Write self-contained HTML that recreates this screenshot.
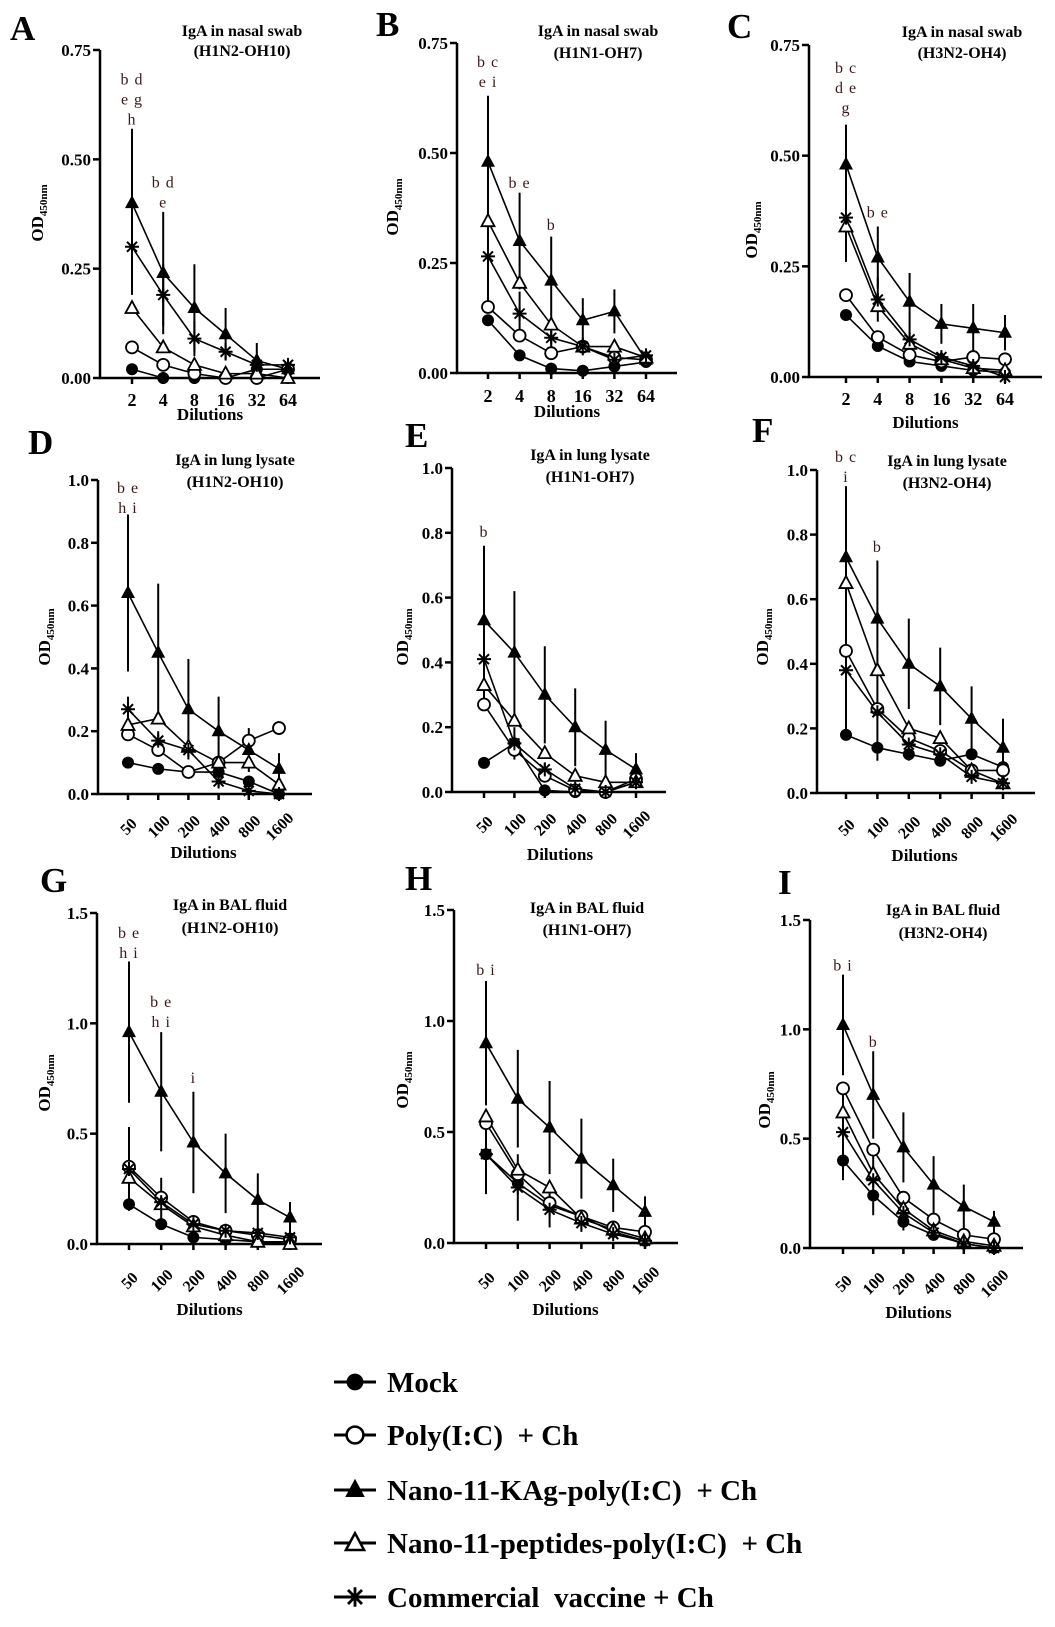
<!DOCTYPE html>
<html><head><meta charset="utf-8"><style>
html,body{margin:0;padding:0;background:#fff}
svg,svg text{font-family:"Liberation Serif","Times New Roman",serif}
</style></head><body>
<svg id="fig" width="1055" height="1622" viewBox="0 0 1055 1622" xmlns="http://www.w3.org/2000/svg" font-family="Liberation Serif, serif"></svg>
<script>
const nasalDilutions = ['2','4','8','16','32','64'];
const lungDilutions = ['50','100','200','400','800','1600'];
const nasalTicks = [0,0.25,0.5,0.75];
const lungTicks = [0,0.2,0.4,0.6,0.8,1.0];
const balTicks = [0,0.5,1.0,1.5];
const seriesNames = ['Mock','Poly(I:C)\u00a0 + Ch','Nano-11-KAg-poly(I:C)\u00a0 + Ch','Nano-11-peptides-poly(I:C)\u00a0 + Ch','Commercial\u00a0 vaccine + Ch'];

const aMock=[0.02,0,0,0,0.02,0.02], aPoly=[0.07,0.03,0.01,0,0,0.02], aKag=[0.40,0.24,0.16,0.10,0.04,0.02], aPep=[0.16,0.07,0.03,0.01,0.01,0], aCom=[0.30,0.19,0.09,0.06,0.03,0.03];
const aKagErr=[0.17,0.14,0.10,0.06,0.04,0.01], aComErr=[0.11,0.07,0.04,0.02,0.01,0.01];
const bMock=[0.12,0.04,0.01,0.005,0.015,0.025], bPoly=[0.15,0.085,0.045,0.06,0.035,0.03], bKag=[0.48,0.30,0.21,0.12,0.14,0.03], bPep=[0.345,0.205,0.11,0.06,0.06,0.035], bCom=[0.265,0.135,0.08,0.06,0.03,0.04];
const bKagErr=[0.15,0.11,0.10,0.05,0.05,0.01], bComErr=[0.10,0.05,0.03,0.02,0.01,0.01];
const cMock=[0.14,0.07,0.035,0.025,0.015,0.01], cPoly=[0.185,0.09,0.05,0.035,0.045,0.04], cKag=[0.48,0.27,0.17,0.12,0.11,0.10], cPep=[0.34,0.16,0.075,0.04,0.02,0.015], cCom=[0.36,0.175,0.085,0.045,0.025,0];
const cKagErr=[0.09,0.07,0.065,0.045,0.055,0.04], cComErr=[0.10,0.05,0.02,0.01,0.01,0.01];
const dMock=[0.10,0.08,0.07,0.07,0.04,0], dPoly=[0.19,0.14,0.07,0.10,0.17,0.21], dKag=[0.64,0.45,0.27,0.20,0.14,0.08], dPep=[0.22,0.24,0.15,0.10,0.10,0.03], dCom=[0.27,0.17,0.14,0.04,0.01,0];
const dKagErr=[0.25,0.22,0.16,0.11,0.07,0.05], dComErr=[0.04,0.03,0.02,0.02,0.01,0];
const eMock=[0.09,0.15,0.005,0,0,0.03], ePoly=[0.27,0.13,0.05,0.005,0,0.04], eKag=[0.53,0.43,0.30,0.20,0.13,0.07], ePep=[0.33,0.22,0.12,0.05,0.03,0.03], eCom=[0.41,0.15,0.07,0.01,0,0.03];
const eKagErr=[0.23,0.19,0.15,0.12,0.09,0.05], eComErr=[0.14,0.05,0.02,0.01,0,0.01];
const fMock=[0.18,0.14,0.12,0.10,0.12,0.08], fPoly=[0.44,0.26,0.17,0.13,0.07,0.07], fKag=[0.73,0.54,0.40,0.33,0.23,0.14], fPep=[0.65,0.38,0.20,0.17,0.07,0.03], fCom=[0.38,0.25,0.15,0.12,0.05,0.03];
const fKagErr=[0.22,0.18,0.14,0.12,0.10,0.09], fComErr=[0.20,0.15,0.05,0.03,0.01,0.01];
const gMock=[0.18,0.09,0.03,0.02,0.01,0.01], gPoly=[0.35,0.21,0.10,0.06,0.04,0.02], gKag=[0.96,0.69,0.46,0.32,0.20,0.12], gPep=[0.30,0.18,0.08,0.04,0.01,0], gCom=[0.34,0.19,0.09,0.06,0.05,0.03];
const gKagErr=[0.32,0.27,0.23,0.18,0.12,0.07], gComErr=[0.19,0.11,0.03,0.02,0.01,0.01];
const hMock=[0.40,0.27,0.17,0.12,0.05,0.01], hPoly=[0.54,0.31,0.18,0.12,0.07,0.05], hKag=[0.90,0.65,0.52,0.38,0.26,0.14], hPep=[0.57,0.33,0.25,0.11,0.06,0.02], hCom=[0.40,0.25,0.15,0.09,0.04,0.01];
const hKagErr=[0.28,0.22,0.21,0.18,0.12,0.07], hComErr=[0.18,0.15,0.08,0.04,0.02,0.01];
const iMock=[0.40,0.24,0.12,0.06,0.02,0], iPoly=[0.73,0.45,0.23,0.13,0.06,0.04], iKag=[1.02,0.70,0.46,0.29,0.19,0.12], iPep=[0.62,0.34,0.18,0.08,0.03,0.01], iCom=[0.53,0.31,0.16,0.07,0.02,0];
const iKagErr=[0.23,0.20,0.16,0.13,0.10,0.05], iComErr=[0.22,0.16,0.08,0.02,0.01,0.01];

const aNotes=[[0,0.58,['b d','e g','h']],[1,0.39,['b d','e']]];
const bNotes=[[0,0.65,['b c','e i']],[1,0.42,['b e']],[2,0.325,['b']]];
const cNotes=[[0,0.596,['b c','d e','g']],[1,0.36,['b e']]];
const dNotes=[[0,0.895,['b e','h i']]];
const eNotes=[[0,0.787,['b']]];
const fNotes=[[0,0.963,['b c','i']],[1,0.746,['b']]];
const gNotes=[[0,1.296,['b e','h i']],[1,0.983,['b e','h i']],[2,0.73,['i']]];
const hNotes=[[0,1.207,['b i']]];
const iNotes=[[0,1.27,['b i']],[1,0.92,['b']]];

const NS='http://www.w3.org/2000/svg';
const svg=document.getElementById('fig');
const FF='Liberation Serif, serif';
function el(tag,attrs,parent){const e=document.createElementNS(NS,tag);for(const k in attrs)e.setAttribute(k,attrs[k]);if(tag==='text')e.setAttribute('font-family',FF);(parent||svg).appendChild(e);return e;}

const panels=[
 {id:'a',letter:'A',lx:10,ly:40,ax:100,top:50,bot:378,x0:132,x1:288,xend:320,ymax:0.75,ticks:nasalTicks,dec:2,cats:nasalDilutions,rot:false,tl:399,dil:420,tcx:242,ty1:36,ty2:56,ylx:43,yly:213,t1:'IgA in nasal swab',t2:'(H1N2-OH10)',data:[aMock,aPoly,aKag,aPep,aCom],ke:aKagErr,ce:aComErr,notes:aNotes},
 {id:'b',letter:'B',lx:376,ly:36,ax:457,top:43,bot:373,x0:488,x1:646,xend:677,ymax:0.75,ticks:nasalTicks,dec:2,cats:nasalDilutions,rot:false,tl:395,dil:417,tcx:598,ty1:36,ty2:58,ylx:398,yly:207,t1:'IgA in nasal swab',t2:'(H1N1-OH7)',data:[bMock,bPoly,bKag,bPep,bCom],ke:bKagErr,ce:bComErr,notes:bNotes},
 {id:'c',letter:'C',lx:727,ly:38,ax:809,top:45,bot:377,x0:846,x1:1005,xend:1042,ymax:0.75,ticks:nasalTicks,dec:2,cats:nasalDilutions,rot:false,tl:398,dil:428,tcx:962,ty1:37,ty2:58,ylx:757,yly:230,t1:'IgA in nasal swab',t2:'(H3N2-OH4)',data:[cMock,cPoly,cKag,cPep,cCom],ke:cKagErr,ce:cComErr,notes:cNotes},
 {id:'d',letter:'D',lx:28,ly:454,ax:98,top:480,bot:794,x0:128,x1:279,xend:312,ymax:1.0,ticks:lungTicks,dec:1,cats:lungDilutions,rot:true,tl:826,dil:858,tcx:235,ty1:465,ty2:487,ylx:50,yly:637,t1:'IgA in lung lysate',t2:'(H1N2-OH10)',data:[dMock,dPoly,dKag,dPep,dCom],ke:dKagErr,ce:dComErr,notes:dNotes},
 {id:'e',letter:'E',lx:405,ly:447,ax:452,top:468,bot:792,x0:484,x1:636,xend:666,ymax:1.0,ticks:lungTicks,dec:1,cats:lungDilutions,rot:true,tl:824,dil:860,tcx:590,ty1:460,ty2:482,ylx:408,yly:637,t1:'IgA in lung lysate',t2:'(H1N1-OH7)',data:[eMock,ePoly,eKag,ePep,eCom],ke:eKagErr,ce:eComErr,notes:eNotes},
 {id:'f',letter:'F',lx:752,ly:442,ax:817,top:470,bot:793,x0:846,x1:1003,xend:1035,ymax:1.0,ticks:lungTicks,dec:1,cats:lungDilutions,rot:true,tl:827,dil:861,tcx:947,ty1:466,ty2:488,ylx:768,yly:637,t1:'IgA in lung lysate',t2:'(H3N2-OH4)',data:[fMock,fPoly,fKag,fPep,fCom],ke:fKagErr,ce:fComErr,notes:fNotes},
 {id:'g',letter:'G',lx:40,ly:892,ax:97,top:913,bot:1244,x0:129,x1:290,xend:322,ymax:1.5,ticks:balTicks,dec:1,cats:lungDilutions,rot:true,tl:1280,dil:1315,tcx:230,ty1:910,ty2:933,ylx:50,yly:1083,t1:'IgA in BAL fluid',t2:'(H1N2-OH10)',data:[gMock,gPoly,gKag,gPep,gCom],ke:gKagErr,ce:gComErr,notes:gNotes},
 {id:'h',letter:'H',lx:405,ly:890,ax:454,top:910,bot:1243,x0:486,x1:645,xend:678,ymax:1.5,ticks:balTicks,dec:1,cats:lungDilutions,rot:true,tl:1280,dil:1315,tcx:587,ty1:913,ty2:935,ylx:408,yly:1080,t1:'IgA in BAL fluid',t2:'(H1N1-OH7)',data:[hMock,hPoly,hKag,hPep,hCom],ke:hKagErr,ce:hComErr,notes:hNotes},
 {id:'i',letter:'I',lx:778,ly:894,ax:810,top:920,bot:1248,x0:843,x1:994,xend:1023,ymax:1.5,ticks:balTicks,dec:1,cats:lungDilutions,rot:true,tl:1283,dil:1318,tcx:943,ty1:915,ty2:938,ylx:770,yly:1100,t1:'IgA in BAL fluid',t2:'(H3N2-OH4)',data:[iMock,iPoly,iKag,iPep,iCom],ke:iKagErr,ce:iComErr,notes:iNotes}
];

function marker(g,k,x,y){
  if(k===0){const m=el('circle',{cx:x,cy:y,r:6,fill:'#000'},g);}
  else if(k===1){const m=el('circle',{cx:x,cy:y,r:6,fill:'#fff',stroke:'#000','stroke-width':1.8},g);}
  else if(k===2){const m=el('polygon',{points:`${x},${y-8} ${x+7},${y+5} ${x-7},${y+5}`,fill:'#000'},g);}
  else if(k===3){const m=el('polygon',{points:`${x},${y-7} ${x+6.5},${y+5} ${x-6.5},${y+5}`,fill:'#fff',stroke:'#000','stroke-width':1.8},g);}
  else {const m=el('path',{d:`M${x-7} ${y}H${x+7}M${x} ${y-7}V${y+7}M${x-5} ${y-5}L${x+5} ${y+5}M${x-5} ${y+5}L${x+5} ${y-5}`,stroke:'#000','stroke-width':2,fill:'none'},g);}
}

panels.forEach(p=>{
  const g=el('g',{});
  
  
  const xs=i=>p.x0+(p.x1-p.x0)*i/(p.cats.length-1);
  const ys=v=>p.bot-(p.bot-p.top)*v/p.ymax;
  const L=el('text',{x:p.lx,y:p.ly,'font-size':35,'font-weight':'bold'},g);L.textContent=p.letter;
  
  const t=el('text',{x:p.tcx,y:p.ty1,'font-size':16,'font-weight':'bold','text-anchor':'middle'},g);t.textContent=p.t1;
  
  const t2=el('text',{x:p.tcx,y:p.ty2,'font-size':16,'font-weight':'bold','text-anchor':'middle'},g);t2.textContent=p.t2;
  
  const ax=el('path',{d:`M${p.ax} ${p.top}V${p.bot}H${p.xend}`,stroke:'#000','stroke-width':2.5,fill:'none'},g);
  
  p.ticks.forEach(v=>{
    el('line',{x1:p.ax-7,x2:p.ax,y1:ys(v),y2:ys(v),stroke:'#000','stroke-width':2.5},g);
    const tl=el('text',{x:p.ax-9,y:ys(v)+6,'font-size':17,'font-weight':'bold','text-anchor':'end'},g);
    tl.textContent=v.toFixed(p.dec);
    
  });
  p.cats.forEach((c,i)=>{
    el('line',{x1:xs(i),x2:xs(i),y1:p.bot,y2:p.bot+6,stroke:'#000','stroke-width':2.5},g);
    let tl;
    if(p.rot){tl=el('text',{x:xs(i),y:p.tl+6,'font-size':16,'font-weight':'bold','text-anchor':'middle',transform:`rotate(-45 ${xs(i)} ${p.tl})`},g);}
    else {tl=el('text',{x:xs(i),y:p.tl+7,'font-size':18,'font-weight':'bold','text-anchor':'middle'},g);}
    tl.textContent=c;
    
  });
  const dl=el('text',{x:(p.x0+p.x1)/2,y:p.dil,'font-size':17,'font-weight':'bold','text-anchor':'middle'},g);dl.textContent='Dilutions';
  
  const yl=el('text',{x:p.ylx,y:p.yly,'font-size':17,'font-weight':'bold','text-anchor':'middle',transform:`rotate(-90 ${p.ylx} ${p.yly})`},g);
  yl.innerHTML='OD<tspan font-size="11" dy="4">450nm</tspan>';
  
  [[2,p.ke],[4,p.ce]].forEach(([k,err])=>{
    err.forEach((e,i)=>{ if(e<=0)return; const v=p.data[k][i];
      const b=el('line',{x1:xs(i),x2:xs(i),y1:ys(Math.max(0,v-e)),y2:ys(v+e),stroke:'#000','stroke-width':2},g);
      });
  });
  p.data.forEach((vals,k)=>{
    const ln=el('polyline',{points:vals.map((v,i)=>xs(i)+','+ys(v)).join(' '),fill:'none',stroke:'#000','stroke-width':1.6},g);
    
  });
  p.data.forEach((vals,k)=>vals.forEach((v,i)=>marker(g,k,xs(i),ys(v))));
  p.notes.forEach(([i,v,lines])=>{
    lines.forEach((s,j)=>{
      const a=el('text',{x:xs(i),y:ys(v)-(lines.length-1-j)*20,'font-size':16,fill:'#3a1a1a','text-anchor':'middle','letter-spacing':'1'},g);
      a.textContent=s;
      
    });
  });
});

const lg=el('g',{});


const legY=[1382,1435,1490,1543,1597];
seriesNames.forEach((n,k)=>{
  const y=legY[k];
  const e=el('g',{},lg);
  
  
  el('line',{x1:334,x2:376,y1:y,y2:y,stroke:'#000','stroke-width':3},e);
  const g2=el('g',{transform:`translate(355 ${y}) scale(1.4) translate(-355 ${-y})`},e);
  marker(g2,k,355,y);
  const t=el('text',{x:387,y:y+10,'font-size':29,'font-weight':'bold'},e);t.textContent=n;
  
});
</script>
</body></html>
